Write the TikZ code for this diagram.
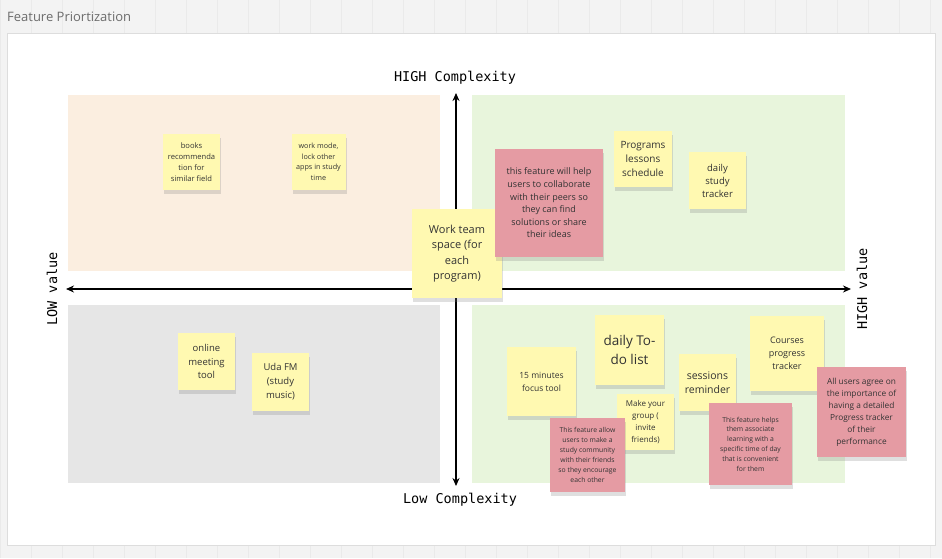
\documentclass[tikz,border=0pt]{standalone}
\usepackage{fontspec}
\setmainfont{Open Sans}
\newfontfamily\monofnt{DejaVu Sans Mono}
\usetikzlibrary{arrows.meta,shadows}
\definecolor{bggray}{HTML}{F3F3F3}
\definecolor{gridline}{HTML}{EAEAEA}
\definecolor{framegray}{HTML}{DDDDDD}
\definecolor{peach}{HTML}{FBEEE0}
\definecolor{lgreen}{HTML}{E8F5DC}
\definecolor{qgray}{HTML}{E6E6E6}
\definecolor{yel}{HTML}{FFF9B1}
\definecolor{pinkred}{HTML}{E59BA3}
\definecolor{txt}{HTML}{333333}
\tikzset{
  stk/.style={align=center, text=txt, inner sep=1pt,
    drop shadow={opacity=0.25, shadow xshift=1pt, shadow yshift=-3.5pt}},
  ysticky/.style={stk, fill=yel},
  rsticky/.style={stk, fill=pinkred},
  axislabel/.style={font=\monofnt\fontsize{13.5}{15}\selectfont, text=black},
  axisline/.style={line width=1.4pt, {Stealth[length=8pt,width=7pt]}-{Stealth[length=8pt,width=7pt]}}
}
\newcommand\fs[2]{\fontsize{#1}{#2}\selectfont}
\begin{document}
\begin{tikzpicture}[x=1pt,y=-1pt]
\useasboundingbox (0,0) rectangle (942,558);
% background grid
\fill[bggray] (0,0) rectangle (942,558);
\draw[gridline, line width=0.6pt] (0,0) grid[step=31] (942,558);
% frame
\fill[white] (7,33) rectangle (935,545);
\draw[framegray, line width=0.6pt] (7,33) rectangle (935,545);
\node[anchor=west, text=gray!85!black, font=\fs{13}{15}, inner sep=0] (title) at (7,17) {Feature Priortization};
% quadrants
\fill[peach] (68,95) rectangle (440,271);
\fill[lgreen] (472,95) rectangle (845,271);
\fill[qgray] (68,305) rectangle (440,483);
\fill[lgreen] (472,305) rectangle (845,483);
% axes
\coordinate (xl) at (66,289);
\coordinate (xr) at (851,289);
\coordinate (yt) at (456,93);
\coordinate (yb) at (456,486);
\draw[axisline] (xl) -- (xr);
\draw[axisline] (yt) -- (yb);
\node[axislabel] (hc) at (455,78) {HIGH Complexity};
\node[axislabel] (lc) at (460,500) {Low Complexity};
\node[axislabel, rotate=90] (lv) at (52,289) {LOW value};
\node[axislabel, rotate=90] (hv) at (862,289) {HIGH value};
% stickies top-left
\node[ysticky, minimum width=57, minimum height=56, font=\fs{7.6}{10.8}] (books) at (191.5,162) {books\\recommenda\\tion for\\similar field};
\node[ysticky, minimum width=54, minimum height=56, font=\fs{7.2}{10.5}] (workmode) at (318.5,162) {work mode,\\lock other\\apps in study\\time};
% center
\node[ysticky, minimum width=90, minimum height=89, font=\fs{11}{15.5}] (workteam) at (457,253.5) {Work team\\space (for\\each\\program)};
% top-right
\node[rsticky, minimum width=108, minimum height=108, font=\fs{9}{12.6}] (collab) at (549,203) {this feature will help\\users to collaborate\\with their peers so\\they can find\\solutions or share\\their ideas};
\node[ysticky, minimum width=58, minimum height=56, font=\fs{10}{14}] (programs) at (643,159) {Programs\\lessons\\schedule};
\node[ysticky, minimum width=57, minimum height=57, font=\fs{9.5}{13}] (dailystudy) at (717.5,180.5) {daily\\study\\tracker};
% bottom-left
\node[ysticky, minimum width=57, minimum height=57, font=\fs{9.5}{13.5}] (online) at (206.5,361.5) {online\\meeting\\tool};
\node[ysticky, minimum width=57, minimum height=58, font=\fs{9.5}{14}] (udafm) at (280.5,382) {Uda FM\\(study\\music)};
% bottom-right
\node[ysticky, minimum width=69, minimum height=69, font=\fs{8.5}{13}] (focus) at (541.5,381.5) {15 minutes\\focus tool};
\node[ysticky, minimum width=69, minimum height=70, font=\fs{13.5}{19}] (todo) at (629.5,350) {daily To-\\do list};
\node[ysticky, minimum width=57, minimum height=57, font=\fs{10.5}{14}] (sessions) at (707.5,382.5) {sessions\\reminder};
\node[ysticky, minimum width=57, minimum height=56, font=\fs{8}{12}] (group) at (645.5,422) {Make your\\group (\\invite\\friends)};
\node[ysticky, minimum width=74, minimum height=75, font=\fs{9}{13}] (courses) at (787,353.5) {Courses\\progress\\tracker};
\node[rsticky, minimum width=75, minimum height=74, font=\fs{6.8}{10}] (community) at (587.5,455) {This feature allow\\users to make a\\study community\\with their friends\\so they encourage\\each other};
\node[rsticky, minimum width=83, minimum height=82, font=\fs{6.8}{9.8}] (helps) at (750.5,444) {This feature helps\\them associate\\learning with a\\specific time of day\\that is convenient\\for them};
\node[rsticky, minimum width=89, minimum height=90, font=\fs{8.3}{12}] (allusers) at (861.5,412) {All users agree on\\the importance of\\having a detailed\\Progress tracker\\of their\\performance};
\end{tikzpicture}
\end{document}
